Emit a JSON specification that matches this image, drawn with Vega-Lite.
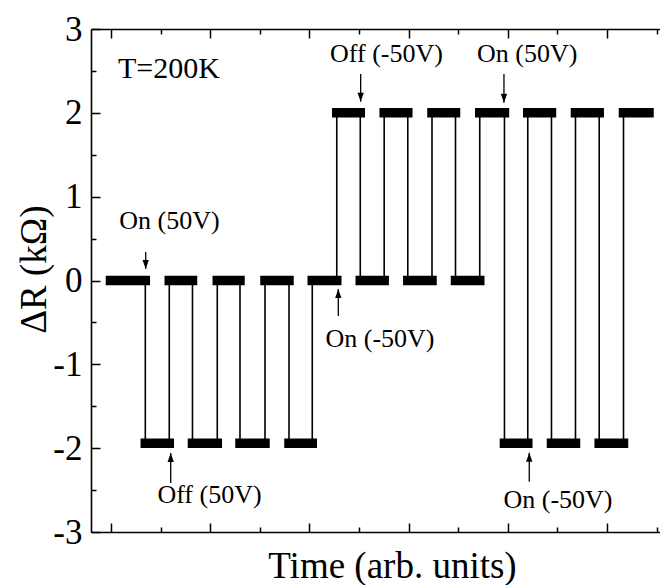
{
  "$schema": "https://vega.github.io/schema/vega-lite/v6.json",
  "width": 569,
  "height": 503,
  "autosize": "none",
  "padding": {"left": 91, "top": 29, "right": 0, "bottom": 53},
  "background": "white",
  "config": {
    "view": {"stroke": null},
    "font": "Liberation Serif",
    "axis": {
      "grid": false,
      "domainColor": "black",
      "domainWidth": 1.6,
      "tickColor": "black",
      "tickWidth": 1.5,
      "labelColor": "black",
      "titleColor": "black",
      "labelFont": "Liberation Serif",
      "titleFont": "Liberation Serif",
      "titleFontWeight": "normal"
    }
  },
  "datasets": {
    "segs": [
      {"seg": 1, "t0": -0.1, "t1": 6.92, "y": 0},
      {"seg": 2, "t0": 6.92, "t1": 11.75, "y": -1.94},
      {"seg": 3, "t0": 11.75, "t1": 16.43, "y": 0},
      {"seg": 4, "t0": 16.43, "t1": 21.43, "y": -1.94},
      {"seg": 5, "t0": 21.43, "t1": 26.01, "y": 0},
      {"seg": 6, "t0": 26.01, "t1": 31.05, "y": -1.94},
      {"seg": 7, "t0": 31.05, "t1": 35.89, "y": 0},
      {"seg": 8, "t0": 35.89, "t1": 40.58, "y": -1.94},
      {"seg": 9, "t0": 40.58, "t1": 45.52, "y": 0},
      {"seg": 10, "t0": 45.52, "t1": 50.26, "y": 2},
      {"seg": 11, "t0": 50.26, "t1": 55.08, "y": 0},
      {"seg": 12, "t0": 55.08, "t1": 59.84, "y": 2},
      {"seg": 13, "t0": 59.84, "t1": 64.72, "y": 0},
      {"seg": 14, "t0": 64.72, "t1": 69.46, "y": 2},
      {"seg": 15, "t0": 69.46, "t1": 74.35, "y": 0},
      {"seg": 16, "t0": 74.35, "t1": 79.33, "y": 2},
      {"seg": 17, "t0": 79.33, "t1": 84.03, "y": -1.94},
      {"seg": 18, "t0": 84.03, "t1": 88.81, "y": 2},
      {"seg": 19, "t0": 88.81, "t1": 93.65, "y": -1.94},
      {"seg": 20, "t0": 93.65, "t1": 98.43, "y": 2},
      {"seg": 21, "t0": 98.43, "t1": 103.33, "y": -1.94},
      {"seg": 22, "t0": 103.33, "t1": 108.47, "y": 2}
    ],
    "arrows": [
      {"x": 7.0, "y": 0.34, "y2": 0.137, "dir": "down"},
      {"x": 12.04, "y": -2.415, "y2": -2.058, "dir": "up"},
      {"x": 45.83, "y": -0.423, "y2": -0.1, "dir": "up"},
      {"x": 50.34, "y": 2.463, "y2": 2.133, "dir": "down"},
      {"x": 79.23, "y": 2.463, "y2": 2.121, "dir": "down"},
      {"x": 84.33, "y": -2.4, "y2": -2.054, "dir": "up"}
    ],
    "notes": [
      {"x": 11.79, "y": 0.614, "text": "On (50V)"},
      {"x": 19.86, "y": -2.654, "text": "Off (50V)"},
      {"x": 54.23, "y": -0.79, "text": "On (-50V)"},
      {"x": 55.54, "y": 2.606, "text": "Off (-50V)"},
      {"x": 83.93, "y": 2.606, "text": "On (50V)"},
      {"x": 90.12, "y": -2.714, "text": "On (-50V)"}
    ],
    "temp": [
      {"x": 1.41, "y": 2.412, "text": "T=200K"}
    ]
  },
  "encoding": {
    "y": {
      "field": "y",
      "type": "quantitative",
      "scale": {"domain": [-3, 3], "nice": false, "zero": false},
      "axis": {
        "orient": "left",
        "values": [-3, -2.5, -2, -1.5, -1, -0.5, 0, 0.5, 1, 1.5, 2, 2.5, 3],
        "labelExpr": "datum.value % 1 === 0 ? (datum.value < 0 ? '-' + abs(datum.value) : '' + datum.value) : ''",
        "labelFontSize": 35,
        "labelPadding": 18,
        "labelBaseline": "middle",
        "tickSize": {"condition": {"test": "datum.value % 1 === 0", "value": -9}, "value": -5},
        "title": "ΔR (kΩ)",
        "titleFontSize": 37,
        "titleAngle": -90,
        "titleAlign": "center",
        "titleBaseline": "alphabetic",
        "titleX": -46,
        "titleY": 240
      }
    }
  },
  "layer": [
    {
      "data": {"name": "segs"},
      "transform": [{"fold": ["t0", "t1"]}],
      "mark": {"type": "line", "color": "black", "strokeWidth": 1.6},
      "encoding": {
        "x": {
          "field": "value",
          "type": "quantitative",
          "scale": {"domain": [-4.03, 110.69], "nice": false, "zero": false},
          "axis": {
            "orient": "bottom",
            "values": [0, 10, 20, 30, 40, 50, 60, 70, 80, 90, 100, 110],
            "labels": false,
            "tickSize": {"condition": {"test": "datum.value % 20 === 0", "value": -9}, "value": -5},
            "title": "Time (arb. units)",
            "titleFontSize": 37,
            "titleAlign": "center",
            "titleBaseline": "alphabetic",
            "titleX": 301,
            "titleY": 45
          }
        },
        "order": [
          {"field": "seg", "type": "quantitative"},
          {"field": "key", "type": "ordinal"}
        ]
      }
    },
    {
      "data": {"name": "segs"},
      "mark": {"type": "rule", "color": "black", "strokeWidth": 9.5, "strokeCap": "square"},
      "encoding": {
        "x": {
          "field": "t0",
          "type": "quantitative",
          "scale": {"domain": [-4.03, 110.69], "nice": false, "zero": false},
          "axis": {
            "orient": "top",
            "values": [0, 10, 20, 30, 40, 50, 60, 70, 80, 90, 100, 110],
            "labels": false,
            "tickSize": {"condition": {"test": "datum.value % 20 === 0", "value": -9}, "value": -5},
            "title": null
          }
        },
        "x2": {"field": "t1"}
      }
    },
    {
      "data": {"name": "arrows"},
      "mark": {"type": "rule", "color": "black", "strokeWidth": 1.3},
      "encoding": {
        "x": {"field": "x", "type": "quantitative", "scale": {"domain": [-4.03, 110.69], "nice": false, "zero": false}, "axis": null},
        "y2": {"field": "y2"}
      }
    },
    {
      "data": {"name": "arrows"},
      "transform": [{"filter": "datum.dir === 'down'"}],
      "mark": {"type": "point", "shape": "M-0.35,-1L0.35,-1L0,0Z", "size": 324, "filled": true, "color": "black", "opacity": 1, "strokeWidth": 0},
      "encoding": {
        "x": {"field": "x", "type": "quantitative", "scale": {"domain": [-4.03, 110.69], "nice": false, "zero": false}, "axis": null},
        "y": {"field": "y2", "type": "quantitative"}
      }
    },
    {
      "data": {"name": "arrows"},
      "transform": [{"filter": "datum.dir === 'up'"}],
      "mark": {"type": "point", "shape": "M-0.35,1L0.35,1L0,0Z", "size": 324, "filled": true, "color": "black", "opacity": 1, "strokeWidth": 0},
      "encoding": {
        "x": {"field": "x", "type": "quantitative", "scale": {"domain": [-4.03, 110.69], "nice": false, "zero": false}, "axis": null},
        "y": {"field": "y2", "type": "quantitative"}
      }
    },
    {
      "data": {"name": "notes"},
      "mark": {"type": "text", "fontSize": 26, "align": "center", "baseline": "alphabetic", "color": "black", "font": "Liberation Serif"},
      "encoding": {
        "x": {"field": "x", "type": "quantitative", "scale": {"domain": [-4.03, 110.69], "nice": false, "zero": false}, "axis": null},
        "text": {"field": "text", "type": "nominal"}
      }
    },
    {
      "data": {"name": "temp"},
      "mark": {"type": "text", "fontSize": 30, "align": "left", "baseline": "alphabetic", "color": "black", "font": "Liberation Serif"},
      "encoding": {
        "x": {"field": "x", "type": "quantitative", "scale": {"domain": [-4.03, 110.69], "nice": false, "zero": false}, "axis": null},
        "text": {"field": "text", "type": "nominal"}
      }
    }
  ],
  "resolve": {"axis": {"x": "independent"}}
}
